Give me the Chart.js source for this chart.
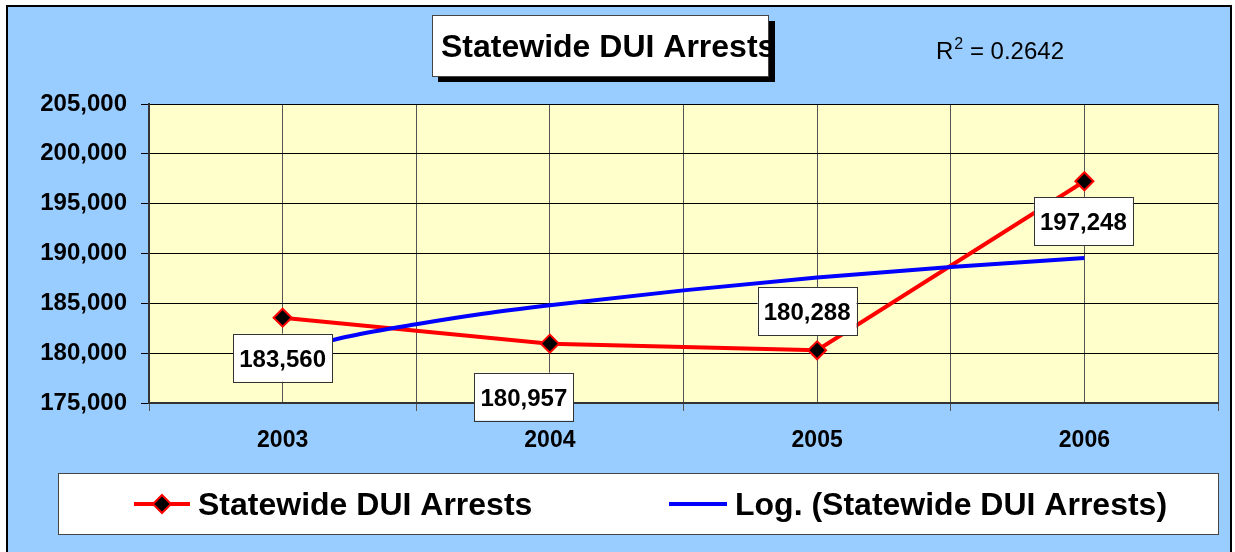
<!DOCTYPE html>
<html lang="en">
<head>
<meta charset="UTF-8" />
<title>Statewide DUI Arrests</title>
<script src="https://cdn.jsdelivr.net/npm/chart.js"></script>
<style>
  body { margin: 0; background: #fff; }
  canvas { display: block; }
</style>
</head>
<body>
<canvas id="duiChart" width="1235" height="552"></canvas>
<script>
  // data
  const years = [2003, 2004, 2005, 2006];
  const arrests = [183560, 180957, 180288, 197248];

  // logarithmic trend line
  const trendYears = [2003, 2003.25, 2003.5, 2003.75, 2004, 2004.5, 2005, 2005.5, 2006];
  const trendValues = [180100, 181700, 182900, 183950, 184800, 186300, 187600, 188650, 189550];

  const yTicks = [175000, 180000, 185000, 190000, 195000, 200000, 205000];
  const chartTitle = 'Statewide DUI Arrests';
  const rSquared = '0.2642';
  const seriesName = 'Statewide DUI Arrests';
  const trendName = 'Log. (Statewide DUI Arrests)';

  const FONT = "'Liberation Sans', Arial, sans-serif";

  // where each value box sits relative to its point (moved by hand in the original)
  const labelOffsets = [[0, 40], [-26, 53], [-10, -39], [-1, 40]];

  function diamond(ctx, x, y, r) {
    ctx.beginPath();
    ctx.moveTo(x, y - r);
    ctx.lineTo(x + r, y);
    ctx.lineTo(x, y + r);
    ctx.lineTo(x - r, y);
    ctx.closePath();
    ctx.fillStyle = '#000';
    ctx.fill();
    ctx.lineWidth = 2;
    ctx.strokeStyle = '#ff0000';
    ctx.stroke();
  }

  const decor = {
    id: 'decor',
    beforeDraw(chart) {
      const ctx = chart.ctx;
      const a = chart.chartArea;
      ctx.save();
      ctx.fillStyle = '#fff';
      ctx.fillRect(0, 0, chart.width, chart.height);
      ctx.fillStyle = '#99ccff';
      ctx.fillRect(7, 6, 1224, 560);
      ctx.lineWidth = 2;
      ctx.strokeStyle = '#000';
      ctx.strokeRect(7, 6, 1224, 560);
      ctx.fillStyle = '#ffffcc';
      ctx.fillRect(a.left, a.top, a.right - a.left, a.bottom - a.top);
      ctx.restore();
    },
    afterDatasetsDraw(chart) {
      const ctx = chart.ctx;
      const meta = chart.getDatasetMeta(1);
      ctx.save();
      ctx.font = 'bold 24px ' + FONT;
      ctx.textAlign = 'center';
      ctx.textBaseline = 'alphabetic';
      meta.data.forEach((pt, i) => {
        const cx = pt.x + labelOffsets[i][0];
        const cy = pt.y + labelOffsets[i][1];
        const w = 99, h = 48;
        ctx.fillStyle = '#fff';
        ctx.fillRect(cx - w / 2, cy - h / 2, w, h);
        ctx.lineWidth = 1;
        ctx.strokeStyle = '#333';
        ctx.strokeRect(Math.round(cx - w / 2) + 0.5, Math.round(cy - h / 2) + 0.5, w, h);
        ctx.fillStyle = '#000';
        ctx.fillText(arrests[i].toLocaleString('en-US'), cx, cy + 9);
      });
      ctx.restore();
    },
    afterDraw(chart) {
      const ctx = chart.ctx;
      ctx.save();

      // title box with drop shadow
      ctx.fillStyle = '#000';
      ctx.fillRect(438, 21, 337, 61);
      ctx.fillStyle = '#fff';
      ctx.fillRect(432, 15, 336, 61);
      ctx.lineWidth = 1;
      ctx.strokeStyle = '#444';
      ctx.strokeRect(432.5, 15.5, 336, 61);
      ctx.fillStyle = '#000';
      ctx.font = 'bold 32px ' + FONT;
      ctx.textBaseline = 'alphabetic';
      ctx.textAlign = 'left';
      ctx.fillText(chartTitle, 441, 57);

      // R squared
      ctx.font = '24px ' + FONT;
      ctx.fillText('R', 936, 59);
      let x = 936 + ctx.measureText('R').width;
      ctx.font = '16px ' + FONT;
      ctx.fillText('2', x + 1, 49);
      x += ctx.measureText('2').width + 1;
      ctx.font = '24px ' + FONT;
      ctx.fillText(' = ' + rSquared, x, 59);

      // legend
      ctx.fillStyle = '#fff';
      ctx.fillRect(58, 473, 1160, 61);
      ctx.strokeStyle = '#444';
      ctx.strokeRect(58.5, 473.5, 1160, 61);

      ctx.lineWidth = 4;
      ctx.strokeStyle = '#ff0000';
      ctx.beginPath();
      ctx.moveTo(134, 504);
      ctx.lineTo(190, 504);
      ctx.stroke();
      diamond(ctx, 162, 504, 9);

      ctx.lineWidth = 4;
      ctx.strokeStyle = '#0000ff';
      ctx.beginPath();
      ctx.moveTo(669, 504);
      ctx.lineTo(727, 504);
      ctx.stroke();

      ctx.fillStyle = '#000';
      ctx.font = 'bold 32px ' + FONT;
      ctx.fillText(seriesName, 198, 515);
      ctx.fillText(trendName, 735, 515);

      ctx.restore();
    }
  };

  const ctx = document.getElementById('duiChart').getContext('2d');

  new Chart(ctx, {
    type: 'line',
    data: {
      datasets: [
        {
          label: trendName,
          data: trendYears.map((yr, i) => ({ x: yr, y: trendValues[i] })),
          borderColor: '#0000ff',
          borderWidth: 4,
          pointRadius: 0,
          tension: 0.4,
          cubicInterpolationMode: 'monotone',
          order: 0
        },
        {
          label: seriesName,
          data: years.map((yr, i) => ({ x: yr, y: arrests[i] })),
          borderColor: '#ff0000',
          borderWidth: 4,
          pointStyle: 'rectRot',
          pointRadius: 9,
          pointBackgroundColor: '#000',
          pointBorderColor: '#ff0000',
          pointBorderWidth: 2,
          tension: 0,
          order: 1
        }
      ]
    },
    options: {
      responsive: false,
      animation: false,
      layout: { padding: { left: 0, right: 17, top: 104, bottom: 89 } },
      plugins: {
        legend: { display: false },
        tooltip: { enabled: false }
      },
      scales: {
        x: {
          type: 'linear',
          min: 2002.5,
          max: 2006.5,
          afterFit: (scale) => { scale.height = 60; },
          border: { color: '#333', width: 2 },
          grid: {
            color: '#555',
            lineWidth: 1,
            tickLength: 8,
            tickColor: (c) => Number.isInteger(c.tick.value) ? 'rgba(0,0,0,0)' : '#555'
          },
          ticks: {
            stepSize: 0.5,
            autoSkip: false,
            maxRotation: 0,
            padding: 16,
            color: '#000',
            font: { family: FONT, size: 23, weight: 'bold' },
            callback: (v) => Number.isInteger(v) ? String(v) : ''
          }
        },
        y: {
          min: yTicks[0],
          max: yTicks[yTicks.length - 1],
          afterFit: (scale) => { scale.width = 149; },
          afterBuildTicks: (scale) => { scale.ticks = yTicks.map(v => ({ value: v })); },
          border: { color: '#333', width: 2 },
          grid: { color: '#000', lineWidth: 1, tickLength: 8, tickColor: '#000' },
          ticks: {
            padding: 14,
            color: '#000',
            font: { family: FONT, size: 24, weight: 'bold' },
            callback: (v) => v.toLocaleString('en-US')
          }
        }
      }
    },
    plugins: [decor]
  });
</script>
</body>
</html>
